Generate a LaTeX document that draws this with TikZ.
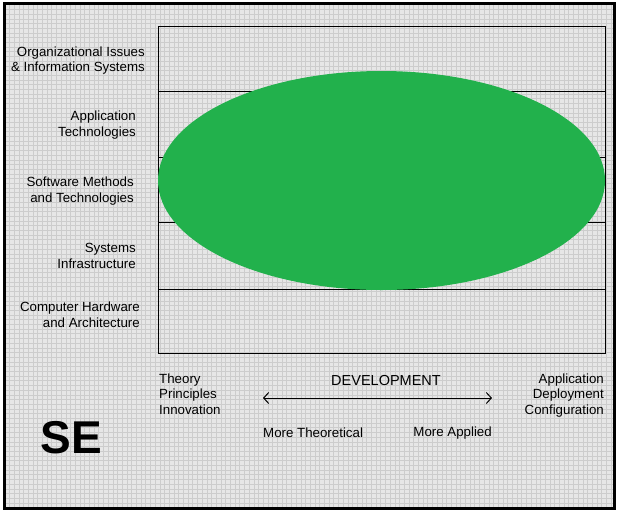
\documentclass[tikz,border=0pt]{standalone}
\usepackage{fontspec}
\setmainfont{Liberation Sans}
\usepackage{tikz}
\usetikzlibrary{arrows.meta,positioning}

\definecolor{segreen}{RGB}{34,177,76}
\definecolor{paper}{RGB}{230,230,230}
\definecolor{gridline}{RGB}{204,204,204}

\tikzset{
    lbl/.style={inner sep=0pt,font=\fontsize{13.3}{15.5}\selectfont},
    rowlbl/.style={lbl,anchor=east,align=right}
}

\begin{document}
\begin{tikzpicture}[x=1pt,y=-1pt]
    \useasboundingbox (0,0) rectangle (620,515);

    % Background with grid
    \fill[paper] (4,3) rectangle (614,508);
    \begin{scope}
        \clip (4,3) rectangle (614,508);
        \draw[gridline,line width=0.45pt] (0,0) grid[step=4.7pt] (620,515);
    \end{scope}
    \draw[line width=3pt] (4,3) rectangle (614,508);

    % Rows
    \draw[line width=0.9pt] (158,26) rectangle (605,353);
    \foreach \y in {91,157,222,289}
        \draw[line width=0.9pt] (158,\y) -- (605,\y);

    % Ellipse
    \fill[segreen] (381.5,180.5) ellipse [x radius=223.5pt, y radius=109.5pt];

    % Row labels
    \node[rowlbl] (org) at (145,60.5) {Organizational Issues\\\& Information Systems};
    \node[rowlbl] (app) at (136,125) {Application\\Technologies};
    \node[rowlbl] (swm) at (134,191) {Software Methods\\and Technologies};
    \node[rowlbl] (sys) at (136,256) {Systems\\Infrastructure};
    \node[rowlbl] (hw) at (140,314.5) {Computer Hardware\\and Architecture};

    % Axis
    \node[lbl,anchor=north west,align=left] (theory) at (159,373.5) {Theory\\Principles\\Innovation};
    \node[lbl,anchor=north east,align=right] (applic) at (604,373.5) {Application\\Deployment\\Configuration};
    \node[lbl,font=\fontsize{14.5}{16}\selectfont] (dev) at (386,380) {DEVELOPMENT};
    \coordinate (arl) at (263,398);
    \coordinate (arr) at (492,398);
    \draw[line width=1pt,{Straight Barb[length=5pt,width=11pt]}-{Straight Barb[length=5pt,width=11pt]}] (arl) -- (arr);
    \node[lbl,anchor=west] (theo) at (263,433) {More Theoretical};
    \node[lbl,anchor=east] (appl) at (492,433) {More Applied};

    % Title
    \node[inner sep=0pt,font=\fontsize{46}{46}\selectfont\bfseries] (se) at (71,438) {SE};
\end{tikzpicture}
\end{document}
